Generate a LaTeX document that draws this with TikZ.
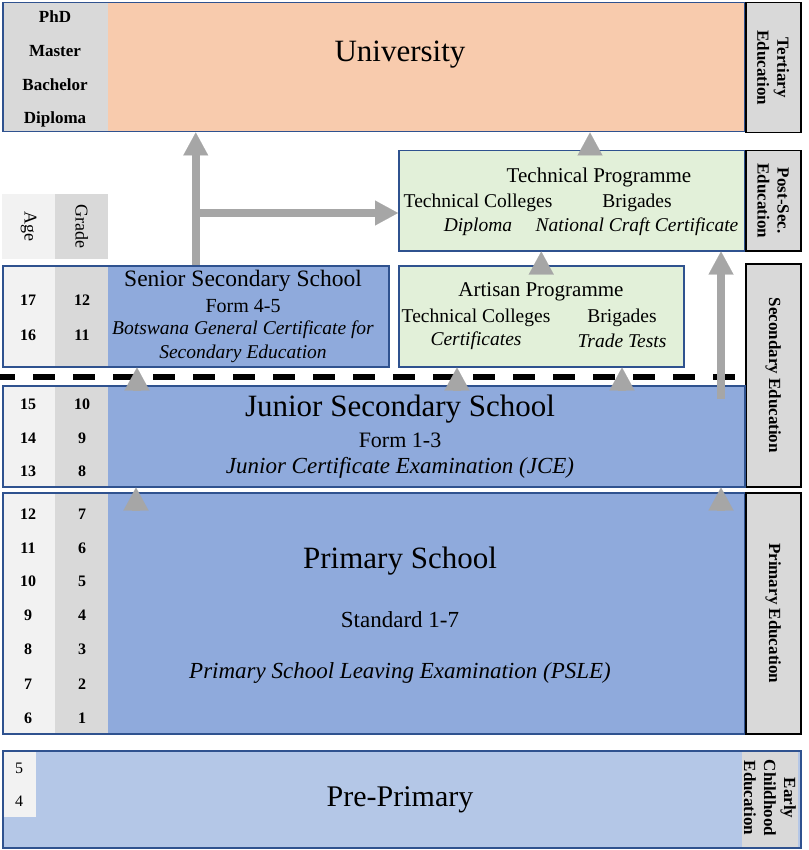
\documentclass[tikz,border=0pt]{standalone}
\usepackage{fontspec}
\setmainfont{Liberation Serif}
\usetikzlibrary{arrows.meta,positioning}
\definecolor{frame}{HTML}{2F528F}
\definecolor{blueA}{HTML}{8FAADC}
\definecolor{blueB}{HTML}{B4C7E7}
\definecolor{greenA}{HTML}{E2F0D9}
\definecolor{peach}{HTML}{F8CBAD}
\definecolor{greyA}{HTML}{D9D9D9}
\definecolor{greyB}{HTML}{F2F2F2}
\definecolor{arrowgrey}{HTML}{A6A6A6}
\newcommand{\fsz}[1]{\fontsize{#1}{#1}\selectfont}

\begin{document}
\begin{tikzpicture}[x=1pt,y=-1pt,
  box/.style={draw=frame,line width=1.5pt,anchor=north west,inner sep=0pt},
  sidebox/.style={draw=black,line width=1.5pt,fill=greyA,anchor=north west,inner sep=0pt},
  plain/.style={anchor=north west,inner sep=0pt},
  side/.style={rotate=-90,align=center,font={\bfseries\fontsize{17}{20}\selectfont}},
  num/.style={font={\bfseries\fsz{16}}},
  deg/.style={font={\bfseries\fsz{17}}},
  hd/.style={rotate=-90,font=\fsz{18}},
  big/.style={font=\fsz{31}},
  tit/.style={font=\fsz{21}},
  bod/.style={font=\fsz{19.5}},
  ibod/.style={font={\itshape\fsz{19.5}}},
  fat/.style={arrowgrey,line width=8pt,-{Triangle[length=23pt,width=25pt,line width=0.1pt]}},
  head/.style={arrowgrey,line width=8pt,-{Triangle[length=23pt,width=25pt,line width=0.1pt]}}
]
  \useasboundingbox (0,0) rectangle (808,850);

  % tertiary
  \fill[peach] (2,2) rectangle (744,131);
  \fill[greyA] (2,2) rectangle (108,131);
  \node[box,minimum width=742pt,minimum height=129pt] (uni) at (2,2) {};
  \node[big] (unit) at (400,55) {University};
  \node[deg] (phd) at (55,17) {PhD};
  \node[deg] (mas) at (55,51) {Master};
  \node[deg] (bac) at (55,85) {Bachelor};
  \node[deg] (dip) at (55,119) {Diploma};
  \node[sidebox,minimum width=55pt,minimum height=130pt] (ter) at (745,2) {};
  \node[side] at (ter.center) {Tertiary\\Education};

  % post-secondary
  \node[box,fill=greenA,minimum width=346pt,minimum height=100pt] (tech) at (398,150) {};
  \node[tit] (techt) at (599,177) {Technical Programme};
  \node[bod] (techc) at (478,203) {Technical Colleges};
  \node[bod] (techb) at (637,203) {Brigades};
  \node[ibod] (techd) at (478,227) {Diploma};
  \node[ibod] (techn) at (637,227) {National Craft Certificate};
  \node[sidebox,minimum width=55pt,minimum height=100pt] (pst) at (745,150) {};
  \node[side] at (pst.center) {Post-Sec.\\Education};

  % age / grade header
  \node[plain,fill=greyB,minimum width=53pt,minimum height=65pt] (agehd) at (2,194) {};
  \node[plain,fill=greyA,minimum width=53pt,minimum height=65pt] (grdhd) at (55,194) {};
  \node[hd] at (agehd.center) {Age};
  \node[hd] at (grdhd.center) {Grade};

  % senior secondary
  \fill[blueA] (2,265) rectangle (388,366);
  \fill[greyB] (2,265) rectangle (55,366);
  \fill[greyA] (55,265) rectangle (108,366);
  \node[box,minimum width=386pt,minimum height=101pt] (sen) at (2,265) {};
  \node[font=\fsz{23.5}] (sent) at (243,281) {Senior Secondary School};
  \node[font=\fsz{20}] (senf) at (243,306) {Form 4-5};
  \node[font={\itshape\fsz{19.5}}] (senc) at (243,330) {Botswana General Certificate for};
  \node[font={\itshape\fsz{19.5}}] (sene) at (243,354) {Secondary Education};
  \node[num] at (28,300) {17}; \node[num] at (82,300) {12};
  \node[num] at (28,335) {16}; \node[num] at (82,335) {11};

  % artisan
  \node[box,fill=greenA,minimum width=285pt,minimum height=101pt] (art) at (398,265) {};
  \node[tit] (artt) at (541,292) {Artisan Programme};
  \node[bod] (artc) at (476,318) {Technical Colleges};
  \node[bod] (artb) at (622,318) {Brigades};
  \node[ibod] (artx) at (476,341) {Certificates};
  \node[ibod] (arty) at (622,341) {Trade Tests};
  \node[sidebox,minimum width=55pt,minimum height=223pt] (sec) at (745,263) {};
  \node[side] at (sec.center) {Secondary Education};

  \draw[line width=6pt,dash pattern=on 22pt off 18pt,dash phase=7pt] (0,377) -- (745,377);

  % junior secondary
  \fill[blueA] (2,385) rectangle (744,486);
  \fill[greyB] (2,385) rectangle (55,486);
  \fill[greyA] (55,385) rectangle (108,486);
  \node[box,minimum width=742pt,minimum height=101pt] (jun) at (2,385) {};
  \node[big] (junt) at (400,409) {Junior Secondary School};
  \node[font=\fsz{22}] (junf) at (400,440) {Form 1-3};
  \node[font={\itshape\fsz{23}}] (junc) at (400,468) {Junior Certificate Examination (JCE)};
  \node[num] at (28,404) {15}; \node[num] at (82,404) {10};
  \node[num] at (28,438) {14}; \node[num] at (82,438) {9};
  \node[num] at (28,471) {13}; \node[num] at (82,471) {8};

  % primary
  \fill[blueA] (2,492) rectangle (744,733);
  \fill[greyB] (2,492) rectangle (55,733);
  \fill[greyA] (55,492) rectangle (108,733);
  \node[box,minimum width=742pt,minimum height=241pt] (pri) at (2,492) {};
  \node[big] (prit) at (400,561) {Primary School};
  \node[font=\fsz{23}] (pris) at (400,620) {Standard 1-7};
  \node[font={\itshape\fsz{23}}] (pril) at (400,673) {Primary School Leaving Examination (PSLE)};
  \node[num] at (28,514) {12}; \node[num] at (82,514) {7};
  \node[num] at (28,548) {11}; \node[num] at (82,548) {6};
  \node[num] at (28,581) {10}; \node[num] at (82,581) {5};
  \node[num] at (28,615) {9};  \node[num] at (82,615) {4};
  \node[num] at (28,649) {8};  \node[num] at (82,649) {3};
  \node[num] at (28,684) {7};  \node[num] at (82,684) {2};
  \node[num] at (28,718) {6};  \node[num] at (82,718) {1};
  \node[sidebox,minimum width=55pt,minimum height=241pt] (prl) at (745,492) {};
  \node[side] at (prl.center) {Primary Education};

  % pre-primary
  \fill[blueB] (2,750) rectangle (800,847);
  \fill[greyB] (2,750) rectangle (36,817);
  \fill[greyA] (742,750) rectangle (798,847);
  \node[box,minimum width=798pt,minimum height=97pt] (pre) at (2,750) {};
  \node[font=\fsz{30}] (pret) at (400,800) {Pre-Primary};
  \node[font=\fsz{16}] at (19,768) {5};
  \node[font=\fsz{16}] at (19,801) {4};
  \node[side] at (770,798) {Early\\Childhood\\Education};

  % arrows
  \coordinate (br) at (195,213);
  \coordinate (t1) at (590,154);
  \coordinate (j1) at (137,390);
  \coordinate (j2) at (457,390);
  \coordinate (j3) at (622,390);
  \coordinate (j4) at (721,399);
  \coordinate (p1) at (136,510);
  \coordinate (p2) at (721,510);
  \draw[fat] (sen.north) -- (sen.north |- uni.south);
  \draw[fat] (br) -- (br -| tech.west);
  \draw[fat] (j4) -- (j4 |- tech.south);
  \draw[head] ([yshift=-8pt]art.north) -- (art.north |- tech.south);
  \draw[head] (t1) -- (t1 |- uni.south);
  \draw[head] (j1) -- (j1 |- sen.south);
  \draw[head] (j2) -- (j2 |- art.south);
  \draw[head] (j3) -- (j3 |- art.south);
  \draw[head] (p1) -- (p1 |- jun.south);
  \draw[head] (p2) -- (p2 |- jun.south);
\end{tikzpicture}
\end{document}
